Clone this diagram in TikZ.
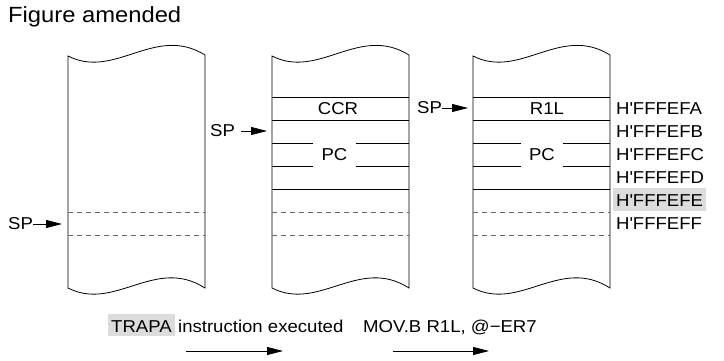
\documentclass[tikz,border=0pt]{standalone}
\usepackage{fontspec}
\setmainfont[FakeStretch=1.08]{Liberation Sans}
\newfontfamily\titlefont[FakeStretch=1.08]{Liberation Sans}
\usetikzlibrary{arrows.meta}
\definecolor{hlgray}{HTML}{DCDCDC}
\definecolor{dashgray}{HTML}{666666}
\newcommand{\apos}{\textquotesingle}
\tikzset{
  wall/.style={draw=black, line width=0.8pt},
  rowline/.style={draw=black, line width=0.8pt},
  dashrow/.style={draw=dashgray, line width=0.8pt, dash pattern=on 5pt off 4pt},
  lbl/.style={font=\fontsize{17.2}{20}\selectfont, inner sep=0pt},
  hlbox/.style={lbl, fill=hlgray, inner xsep=3pt, inner ysep=4pt, text height=14.5pt, text depth=0pt},
  ptr/.style={-{Triangle[length=16pt,width=8pt]}, line width=0.8pt},
}
\begin{document}
\begin{tikzpicture}[x=1pt,y=-1pt]
\useasboundingbox (0,0) rectangle (724,361);

% title
\node[anchor=base west, inner sep=0pt, font=\titlefont\fontsize{22}{26}\selectfont] (title) at (8,23) {Figure amended};

% column outlines
\foreach \x in {68,272,473} {
  \draw[wall] (\x,56) .. controls (\x+47,80) and (\x+87,24) .. (\x+137,55)
    -- (\x+137,288) .. controls (\x+87,256) and (\x+47,312) .. (\x,288) -- cycle;
}

% column 1 rows
\draw[dashrow] (68,212) -- (205,212);
\draw[dashrow] (68,235) -- (205,235);

% column 2 rows
\draw[rowline] (272,97) -- (409,97);
\draw[rowline] (272,120) -- (409,120);
\draw[rowline] (272,143) -- (313,143);
\draw[rowline] (356,143) -- (409,143);
\draw[rowline] (272,166) -- (313,166);
\draw[rowline] (356,166) -- (409,166);
\draw[rowline] (272,189) -- (409,189);
\draw[dashrow] (272,212) -- (409,212);
\draw[dashrow] (272,235) -- (409,235);

% column 3 rows
\draw[rowline] (473,97) -- (610,97);
\draw[rowline] (473,120) -- (610,120);
\draw[rowline] (473,143) -- (521,143);
\draw[rowline] (563,143) -- (610,143);
\draw[rowline] (473,166) -- (521,166);
\draw[rowline] (563,166) -- (610,166);
\draw[rowline] (473,189) -- (610,189);
\draw[dashrow] (473,212) -- (610,212);
\draw[dashrow] (473,235) -- (610,235);

% cell labels
\node[lbl] (ccr) at (338,108.5) {CCR};
\node[lbl] (pc2) at (334.5,154.5) {PC};
\node[lbl] (r1l) at (547,108.5) {R1L};
\node[lbl] (pc3) at (542,154.5) {PC};

% addresses
\node[lbl, anchor=base west] (afa) at (616,114.5) {H\apos FFFEFA};
\node[lbl, anchor=base west] (afb) at (616,137.5) {H\apos FFFEFB};
\node[lbl, anchor=base west] (afc) at (616,160.5) {H\apos FFFEFC};
\node[lbl, anchor=base west] (afd) at (616,183.5) {H\apos FFFEFD};
\node[hlbox, anchor=base west] (afe) at (613,206.5) {H\apos FFFEFE};
\node[lbl, anchor=base west] (aff) at (616,229.5) {H\apos FFFEFF};

% stack pointers
\node[lbl, anchor=west] (sp1) at (8,224) {SP};
\coordinate (tip1) at (62,224);
\draw[ptr] (sp1.east) -- (tip1);

\node[lbl, anchor=west] (sp2) at (210,131) {SP};
\coordinate (tip2) at (267,131);
\draw[ptr, shorten <=6pt] (sp2.east) -- (tip2);

\node[lbl, anchor=west] (sp3) at (417,108) {SP};
\coordinate (tip3) at (468,108);
\draw[ptr] (sp3.east) -- (tip3);

% bottom captions
\node[hlbox, anchor=base west] (trapa) at (108,332) {TRAPA};
\node[lbl, anchor=base west, xshift=3pt] (instr) at (trapa.base east) {instruction executed};
\node[lbl, anchor=base west] (mov) at (363,332) {MOV.B R1L, @−ER7};

\coordinate (a1s) at (186,351);
\coordinate (a1e) at (283,351);
\coordinate (a2s) at (393,351);
\coordinate (a2e) at (489,351);
\draw[ptr] (a1s) -- (a1e);
\draw[ptr] (a2s) -- (a2e);
\end{tikzpicture}
\end{document}
